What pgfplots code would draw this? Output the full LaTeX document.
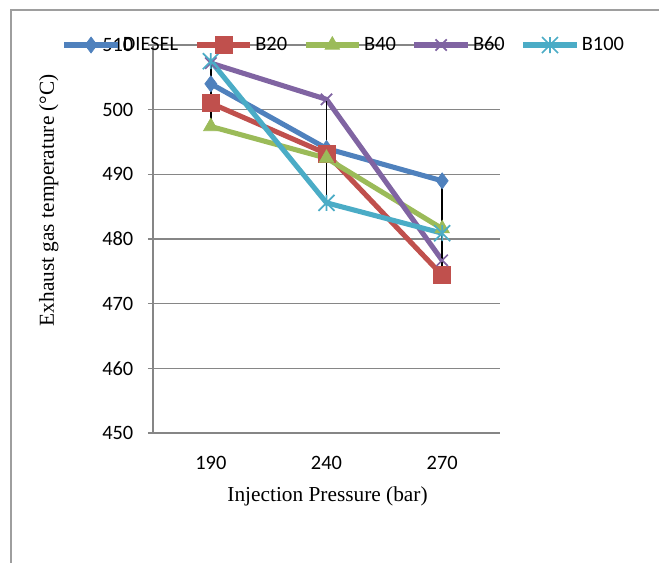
\documentclass[border=0pt]{standalone}
\usepackage{fontspec}
\setmainfont{Liberation Serif}
\newfontfamily\carlito{Carlito}
\usepackage{pgfplots}
\usepackage{pgfplotstable}
\pgfplotsset{compat=1.18}

\definecolor{cdiesel}{HTML}{4F81BD}
\definecolor{cbtwenty}{HTML}{C0504D}
\definecolor{cbforty}{HTML}{9BBB59}
\definecolor{cbsixty}{HTML}{8064A2}
\definecolor{cbhundred}{HTML}{4BACC6}
\definecolor{axgray}{HTML}{868686}

% Excel style star: x plus a vertical bar
\pgfdeclareplotmark{xstar}{%
  \pgfpathmoveto{\pgfqpoint{-\pgfplotmarksize}{-\pgfplotmarksize}}%
  \pgfpathlineto{\pgfqpoint{\pgfplotmarksize}{\pgfplotmarksize}}%
  \pgfpathmoveto{\pgfqpoint{-\pgfplotmarksize}{\pgfplotmarksize}}%
  \pgfpathlineto{\pgfqpoint{\pgfplotmarksize}{-\pgfplotmarksize}}%
  \pgfpathmoveto{\pgfqpoint{0pt}{-\pgfplotmarksize}}%
  \pgfpathlineto{\pgfqpoint{0pt}{\pgfplotmarksize}}%
  \pgfusepathqstroke}

% exhaust gas temperature, categories at 0.5 / 1.5 / 2.5
\pgfplotstableread{
x   diesel b20   b40   b60   b100
0.5 504.0  501.0 497.4 507.2 507.5
1.5 494.0  493.2 492.5 501.6 485.6
2.5 489.0  474.4 481.6 476.7 480.9
}\egt

\begin{document}
\begin{tikzpicture}
\useasboundingbox (-114.75pt,-96.75pt) rectangle (379.5pt,324.75pt);
\draw[axgray!80, line width=0.8pt] (-106.5pt,-110pt) -- (-106.5pt,317.25pt) -- (400pt,317.25pt);
\begin{axis}[
	at={(0pt,0pt)}, anchor=south west,
	scale only axis,
	width=260.25pt, height=291pt,
	xmin=0, xmax=3,
	ymin=450, ymax=510,
	ytick={450,460,...,510},
	xtick={0.5,1.5,2.5},
	xticklabels={190,240,270},
	axis lines*=left,
	axis line style={draw=axgray, line width=0.8pt, -},
	ymajorgrids,
	grid style={axgray, line width=0.8pt},
	tick align=outside,
	major tick length=3.75pt,
	xtick style={draw=none},
	ytick style={axgray, line width=0.8pt},
	/pgf/number format/assume math mode=true,
	ticklabel style={font=\carlito\fontsize{15.3}{18}\selectfont},
	yticklabel style={/pgf/number format/1000 sep={}, xshift=-7.5pt},
	xticklabel style={yshift=-10pt},
	xlabel={Injection Pressure (bar)},
	ylabel={Exhaust gas temperature (°C)},
	label style={font=\fontsize{16}{19}\selectfont},
	xlabel style={at={(axis description cs:0.503,-0.163)}, anchor=center},
	ylabel style={at={(axis description cs:-0.300,0.6)}, anchor=center, rotate=0},
	legend columns=-1,
	legend style={at={(axis description cs:-0.275,1)}, anchor=west,
		draw=none, fill=none, font=\carlito\fontsize{15.3}{18}\selectfont,
		/tikz/every even column/.append style={column sep=10pt},
		/tikz/every odd column/.append style={column sep=0pt}},
	legend image code/.code={\draw[mark repeat=2,mark phase=2] plot coordinates {(0pt,0pt) (20pt,0pt) (40pt,0pt)};},
	every axis plot/.append style={line width=3.8pt},
]
\addplot[cdiesel, mark=diamond*, mark size=6pt, mark options={solid, line width=0.5pt}] table[x=x, y=diesel] {\egt};
\addlegendentry{DIESEL}
\addplot[cbtwenty, mark=square*, mark size=6.3pt, mark options={solid, line width=0.5pt}] table[x=x, y=b20] {\egt};
\addlegendentry{B20}
\addplot[cbforty, mark=triangle*, mark size=6.3pt, mark options={solid, line width=0.5pt}] table[x=x, y=b40] {\egt};
\addlegendentry{B40}
\addplot[cbsixty, mark=x, mark size=6pt, mark options={solid, line width=1.3pt}] table[x=x, y=b60] {\egt};
\addlegendentry{B60}
\addplot[cbhundred, mark=xstar, mark size=6pt, mark options={solid, line width=1.3pt}] table[x=x, y=b100] {\egt};
\addlegendentry{B100}
% high-low lines
\addplot[black, line width=1.4pt, forget plot, unbounded coords=jump] coordinates {
	(0.5,507.6) (0.5,497.4) (0.5,nan)
	(1.5,501.6) (1.5,485.6) (1.5,nan)
	(2.5,489.0) (2.5,474.4)
};
\end{axis}
\end{tikzpicture}
\end{document}
